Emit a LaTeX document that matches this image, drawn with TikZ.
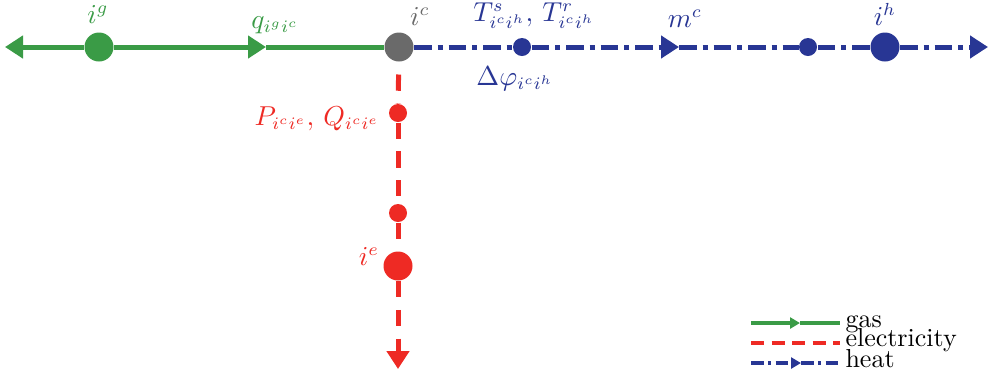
\documentclass[tikz,border=0pt]{standalone}
\usetikzlibrary{arrows.meta}
\definecolor{gasc}{RGB}{58,155,70}
\definecolor{elc}{RGB}{238,42,36}
\definecolor{hc}{RGB}{40,54,148}
\definecolor{ndc}{RGB}{106,106,106}
\begin{document}
\begin{tikzpicture}[x=0.4pt,y=-0.4pt,
 big/.style={circle,fill,inner sep=0pt,minimum size=11.6pt},
 small/.style={circle,fill,inner sep=0pt,minimum size=7.2pt},
 gasline/.style={gasc,line width=2pt},
 elline/.style={elc,line width=2pt,dash pattern=on 6.5pt off 5pt},
 heatline/.style={hc,line width=2pt,dash pattern=on 7pt off 2.4pt on 2pt off 2.4pt},
 tip/.style={-{Triangle[length=7.2pt,width=8.8pt]}},
 legtip/.style={-{Triangle[length=4pt,width=4.4pt]}},
 lab/.style={font=\fontsize{10.5}{12}\selectfont,inner sep=0pt,anchor=base},
 legtext/.style={font=\fontsize{10.4}{12}\selectfont,inner sep=0pt,anchor=base west}
]
\useasboundingbox (0,0) rectangle (993,375);

% nodes
\node[big,gasc] (ig) at (99,47) {};
\node[big,ndc] (ic) at (399,47) {};
\node[small,hc] (h1) at (522,47) {};
\node[small,hc] (h2) at (808,47) {};
\node[big,hc] (ih) at (885,47) {};
\node[small,elc] (e1) at (398,113) {};
\node[small,elc] (e2) at (398,213) {};
\node[big,elc] (ie) at (398,266) {};

\coordinate (gl) at (5,47);
\coordinate (ga) at (266,47);
\coordinate (ha) at (679,47);
\coordinate (hr) at (988,47);
\coordinate (eb) at (398,369);

% gas
\draw[gasline,tip] (ig) -- (gl);
\draw[gasline,tip] (ig) -- (ga);
\draw[gasline] (ga) -- (ic);
% heat
\draw[heatline] (ic) -- (h1);
\draw[heatline,tip] (h1) -- (ha);
\draw[heatline] (ha) -- (h2);
\draw[heatline] (h2) -- (ih);
\draw[heatline,tip] (ih) -- (hr);
% electricity
\draw[elline,dash phase=-5pt] (ic) -- (e1);
\draw[elline] (e1) -- (e2);
\draw[elline] (e2) -- (ie);
\draw[elline,tip] (ie) -- (eb);

% labels
\node[lab,gasc] (lig) at (98,23) {$i^g$};
\node[lab,gasc] (lq) at (275,28) {$q_{i^g i^c}$};
\node[lab,ndc] (lic) at (420,25) {$i^c$};
\node[lab,hc] (lT) at (534,21) {$T^s_{i^c i^h},\, T^r_{i^c i^h}$};
\node[lab,hc] (lm) at (685,27) {$m^c$};
\node[lab,hc] (lih) at (885,25) {$i^h$};
\node[lab,hc] (lphi) at (515,85) {$\Delta\varphi_{i^c i^h}$};
\node[lab,elc] (lPQ) at (317,125) {$P_{i^c i^e},\, Q_{i^c i^e}$};
\node[lab,elc] (lie) at (369,265) {$i^e$};

% legend
\coordinate (g1) at (751,323);
\coordinate (g2) at (840,323);
\coordinate (g3) at (800,323);
\coordinate (r1) at (751,343);
\coordinate (r2) at (840,343);
\coordinate (b1) at (751,363);
\coordinate (b2) at (840,363);
\coordinate (b3) at (801,363);
\draw[gasc,line width=1.3pt,legtip] (g1) -- (g3);
\draw[gasc,line width=1.3pt] (g3) -- (g2);
\draw[elc,line width=1.3pt,dash pattern=on 5.2pt off 3pt] (r1) -- (r2);
\draw[hc,line width=1.3pt,dash pattern=on 5pt off 1.8pt on 1.2pt off 1.8pt,legtip] (b1) -- (b3);
\draw[hc,line width=1.3pt,dash pattern=on 5pt off 1.8pt on 1.2pt off 1.8pt] (b3) -- (b2);
\node[legtext] (tg) at (845,327) {gas};
\node[legtext] (te) at (845,346) {electricity};
\node[legtext] (th) at (845,367) {heat};
\end{tikzpicture}
\end{document}
